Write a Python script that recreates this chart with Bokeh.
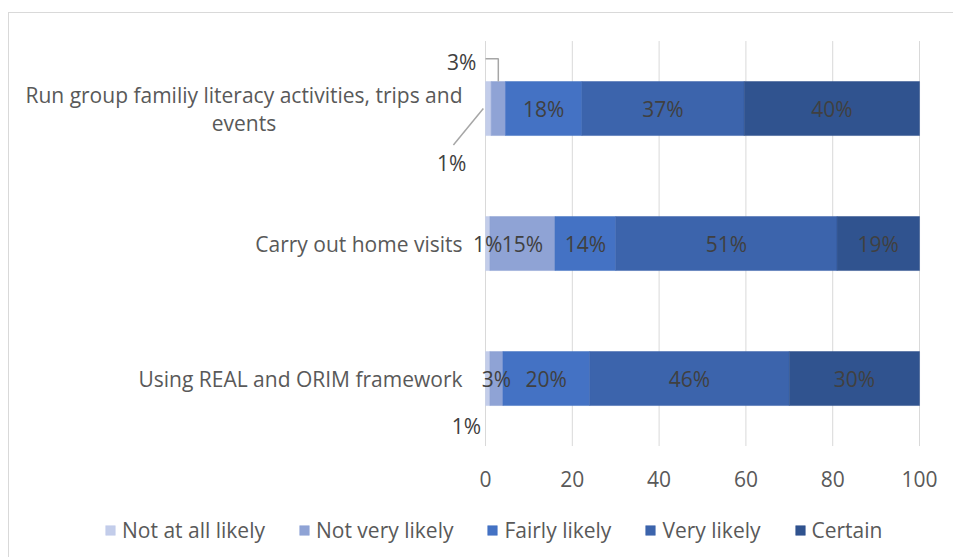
from bokeh.plotting import figure
from bokeh.models import ColumnDataSource, Range1d, Legend, LegendItem
from bokeh.embed import file_html
from bokeh.resources import INLINE
from bokeh.core.properties import value

# ---- data ----
categories = ["Using REAL and ORIM framework",
              "Carry out home visits",
              "Run group familiy literacy activities, trips and\nevents"]
series = ["Not at all likely", "Not very likely", "Fairly likely", "Very likely", "Certain"]
not_at_all = [1, 1, 1.3]
not_very = [3, 15, 3.3]
fairly = [20, 14, 17.6]
very = [46, 51, 37.4]
certain = [30, 19, 40.4]
x_ticks = [0, 20, 40, 60, 80, 100]
x_tick_labels = ["0", "20", "40", "60", "80", "100"]
colors = ["#c3cdea", "#8fa3d5", "#4472c4", "#3c64ac", "#30538f"]

FONT = "Open Sans"
GRAY = "#595959"
LABEL_GRAY = "#404040"
FS = "21px"

ypos = [i + 0.5 for i in range(len(categories))]
keys = ["s0", "s1", "s2", "s3", "s4"]
all_vals = [not_at_all, not_very, fairly, very, certain]
data = dict(y=ypos)
for k, vals in zip(keys, all_vals):
    data[k] = vals
src = ColumnDataSource(data)

p = figure(width=945, height=545, output_backend="svg", toolbar_location=None,
           x_range=Range1d(-109.68, 108.06), y_range=Range1d(-0.833, 3.204),
           min_border=0)
p.styles = {"border-left": "1px solid #d9d9d9", "border-top": "1px solid #d9d9d9",
            "margin-left": "8px", "margin-top": "12px"}
p.outline_line_color = None
p.background_fill_color = "white"
p.axis.visible = False
p.grid.visible = False

# vertical gridlines on the value scale
p.segment(x0=x_ticks, y0=[0] * len(x_ticks), x1=x_ticks, y1=[3] * len(x_ticks),
          line_color="#d9d9d9", line_width=1)

bars = p.hbar_stack(keys, y="y", height=0.4, color=colors, source=src,
                    line_color=colors, line_width=0.5)

# value-axis tick labels
p.text(x=x_ticks, y=[-0.241] * len(x_ticks), text=x_tick_labels, text_align="center",
       text_baseline="middle", text_font=value(FONT), text_font_size=FS, text_color=GRAY)

# category labels (left of the value axis)
p.text(x=[-5.3] * len(categories), y=ypos, text=categories, anchor="center_right",
       text_align="center", text_baseline="middle", text_font=value(FONT),
       text_font_size=FS, text_color=GRAY, text_line_height=1.0)

# data labels
callouts = {(2, 0): (-7.8, 2.096), (2, 1): (-5.5, 2.844), (0, 0): (-4.4, 0.152)}
lx, ly, lt = [], [], []
for ci in range(len(categories)):
    cum = 0
    for si, vals in enumerate(all_vals):
        v = vals[ci]
        if (ci, si) in callouts:
            cx, cy = callouts[(ci, si)]
            lx.append(cx)
            ly.append(cy)
        else:
            lx.append(cum + v / 2)
            ly.append(ypos[ci])
        lt.append(f"{round(v)}%")
        cum += v
p.text(x=lx, y=ly, text=lt, text_align="center", text_baseline="middle",
       text_font=value(FONT), text_font_size=FS, text_color=LABEL_GRAY)

# leader lines for callouts (top bar)
top = 2
seg2_center = not_at_all[top] + not_very[top] / 2
p.line(x=[seg2_center, seg2_center, 0], y=[ypos[top] + 0.2, 2.868, 2.868],
       line_color="#a6a6a6", line_width=1.5)
p.line(x=[-0.5, -7.4], y=[ypos[top], 2.23], line_color="#a6a6a6", line_width=1.5)

# legend
items = [LegendItem(label=s, renderers=[r]) for s, r in zip(series, bars)]
legend = Legend(items=items, orientation="horizontal", location=(95, 14),
                glyph_width=12, glyph_height=12, label_standoff=6, spacing=33,
                label_text_font=FONT, label_text_font_size=FS,
                label_text_color=GRAY, border_line_color=None,
                background_fill_alpha=0, padding=0, margin=0)
p.add_layout(legend)

open("out.html", "w").write(file_html(p, INLINE))
